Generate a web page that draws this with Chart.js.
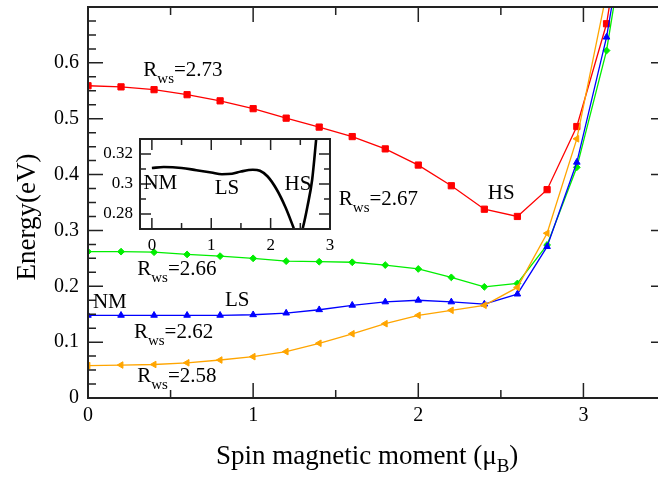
<!DOCTYPE html>
<html>
<head>
<meta charset="utf-8">
<script src="https://cdn.jsdelivr.net/npm/chart.js@4.4.0/dist/chart.umd.min.js"></script>
<style>
  html, body { margin: 0; padding: 0; overflow: hidden; background: #fff; }
  #wrap { position: relative; width: 672px; height: 477px; }
  #main { position: absolute; left: 0; top: 0; }
  #inset { position: absolute; left: 95px; top: 134px; }
</style>
</head>
<body>
<div id="wrap">
  <canvas id="main" width="672" height="477"></canvas>
  <canvas id="inset" width="240" height="120"></canvas>
</div>
<script>
// spin moment (mu_B) and energies (eV) for each Wigner-Seitz radius
const moment = [0, 0.2, 0.4, 0.6, 0.8, 1.0, 1.2, 1.4, 1.6, 1.8, 2.0, 2.2, 2.4, 2.6, 2.78, 2.96, 3.14, 3.32];
const rws273 = [0.559, 0.557, 0.552, 0.543, 0.532, 0.518, 0.501, 0.485, 0.468, 0.446, 0.417, 0.380, 0.338, 0.325, 0.373, 0.486, 0.670, 1.00];
const rws266 = [0.262, 0.262, 0.261, 0.257, 0.254, 0.250, 0.245, 0.244, 0.243, 0.238, 0.231, 0.216, 0.199, 0.205, 0.274, 0.413, 0.622, 0.95];
const rws262 = [0.148, 0.148, 0.148, 0.148, 0.148, 0.149, 0.152, 0.158, 0.166, 0.172, 0.175, 0.172, 0.168, 0.186, 0.271, 0.422, 0.646, 0.96];
const rws258 = [0.058, 0.059, 0.060, 0.063, 0.068, 0.074, 0.083, 0.098, 0.115, 0.133, 0.148, 0.157, 0.166, 0.198, 0.295, 0.464, 0.725];

// inset curve
const insetMoment = [0, 0.2, 0.5, 0.75, 1.0, 1.18, 1.35, 1.5, 1.7, 1.82, 1.95, 2.1, 2.25, 2.38, 2.47, 2.55, 2.62, 2.70, 2.77, 2.84];
const insetEnergy = [0.3107, 0.3113, 0.3107, 0.3092, 0.3077, 0.3065, 0.3068, 0.3083, 0.3095, 0.3088, 0.3050, 0.2965, 0.2845, 0.2715, 0.262, 0.272, 0.285, 0.303, 0.331, 0.36];

// tick labels
const mainXTicks = [0, 1, 2, 3];
const mainYTicks = [0, 0.1, 0.2, 0.3, 0.4, 0.5, 0.6];
const insetXTicks = [0, 1, 2, 3];
const insetYTicks = [0.28, 0.3, 0.32];

// text labels, placed in data coordinates (left edge, baseline)
const rwsLabels = [
  { x: 0.335, y: 0.576, text: '2.73' },
  { x: 1.519, y: 0.346, text: '2.67' },
  { x: 0.298, y: 0.220, text: '2.66' },
  { x: 0.278, y: 0.108, text: '2.62' },
  { x: 0.298, y: 0.028, text: '2.58' }
];
const stateLabels = [
  { x: 0.03, y: 0.1616, text: 'NM' },
  { x: 0.829, y: 0.1645, text: 'LS' },
  { x: 2.421, y: 0.356, text: 'HS' }
];
const insetLabels = [
  { x: -0.142, y: 0.2967, text: 'NM' },
  { x: 1.057, y: 0.2935, text: 'LS' },
  { x: 2.235, y: 0.2957, text: 'HS' }
];

const FONT = '"Liberation Serif", "Times New Roman", serif';

function pts(xs, ys) {
  return ys.map((y, i) => ({ x: xs[i], y: y }));
}

// white page behind the main plot
const whiteBg = {
  id: 'whiteBg',
  beforeDraw(chart) {
    const ctx = chart.ctx;
    ctx.save();
    ctx.fillStyle = '#fff';
    ctx.fillRect(0, 0, chart.width, chart.height);
    ctx.restore();
  }
};

// inset only blanks its own plot box, the rest of its canvas stays clear
const insetBg = {
  id: 'insetBg',
  beforeDraw(chart) {
    const { ctx, chartArea: a } = chart;
    ctx.save();
    ctx.fillStyle = '#fff';
    ctx.fillRect(a.left, a.top, a.right - a.left, a.bottom - a.top);
    ctx.restore();
  }
};

// frame with inward ticks on all four sides
function drawFrame(chart, o) {
  const { ctx, chartArea: a } = chart;
  const x = chart.scales.x, y = chart.scales.y;
  ctx.save();
  ctx.strokeStyle = '#222';
  ctx.lineWidth = 1.5;
  ctx.beginPath();
  for (let i = Math.ceil(x.min / o.xMinor - 1e-6); i * o.xMinor <= x.max + 1e-6; i++) {
    const len = i % o.xRatio === 0 ? o.major : o.minor;
    const px = x.getPixelForValue(i * o.xMinor);
    ctx.moveTo(px, a.bottom); ctx.lineTo(px, a.bottom - len);
    ctx.moveTo(px, a.top); ctx.lineTo(px, a.top + len);
  }
  for (let i = Math.ceil(y.min / o.yMinor - 1e-6); i * o.yMinor <= y.max + 1e-6; i++) {
    const len = i % o.yRatio === 0 ? o.major : o.minor;
    const py = y.getPixelForValue(i * o.yMinor);
    ctx.moveTo(a.left, py); ctx.lineTo(a.left + len, py);
    ctx.moveTo(a.right, py); ctx.lineTo(a.right - len, py);
  }
  ctx.stroke();
  ctx.lineWidth = 2;
  ctx.strokeRect(a.left, a.top, a.right - a.left, a.bottom - a.top);
  ctx.restore();
}

function drawPlain(chart, list) {
  const ctx = chart.ctx;
  ctx.save();
  ctx.fillStyle = '#000';
  ctx.textBaseline = 'alphabetic';
  ctx.textAlign = 'left';
  ctx.font = '21px ' + FONT;
  list.forEach(l => {
    ctx.fillText(l.text, chart.scales.x.getPixelForValue(l.x), chart.scales.y.getPixelForValue(l.y));
  });
  ctx.restore();
}

const mainDecor = {
  id: 'mainDecor',
  afterDraw(chart) {
    drawFrame(chart, { xMinor: 0.5, xRatio: 2, yMinor: 0.025, yRatio: 4, major: 15, minor: 8 });
    const ctx = chart.ctx;
    ctx.save();
    ctx.fillStyle = '#000';
    ctx.textBaseline = 'alphabetic';
    ctx.textAlign = 'left';
    rwsLabels.forEach(l => {
      const px = chart.scales.x.getPixelForValue(l.x);
      const py = chart.scales.y.getPixelForValue(l.y);
      ctx.font = '21px ' + FONT;
      ctx.fillText('R', px, py);
      let w = ctx.measureText('R').width;
      ctx.font = '15px ' + FONT;
      ctx.fillText('ws', px + w, py + 7);
      w += ctx.measureText('ws').width;
      ctx.font = '21px ' + FONT;
      ctx.fillText('=' + l.text, px + w, py);
    });
    // axis titles
    ctx.font = '27px ' + FONT;
    const t1 = 'Spin magnetic moment (\u03bc';
    ctx.fillText(t1, 216, 464);
    let w = ctx.measureText(t1).width;
    ctx.font = '19px ' + FONT;
    ctx.fillText('B', 216 + w, 472);
    w += ctx.measureText('B').width;
    ctx.font = '27px ' + FONT;
    ctx.fillText(')', 216 + w, 464);
    ctx.translate(28, 217);
    ctx.rotate(-Math.PI / 2);
    ctx.textAlign = 'center';
    ctx.textBaseline = 'middle';
    ctx.fillText('Energy(eV)', 0, 0);
    ctx.restore();
    drawPlain(chart, stateLabels);
  }
};

const insetDecor = {
  id: 'insetDecor',
  afterDraw(chart) {
    drawFrame(chart, { xMinor: 0.5, xRatio: 2, yMinor: 0.01, yRatio: 2, major: 11, minor: 6 });
    drawPlain(chart, insetLabels);
  }
};

function series(label, ys, color, style, radius, rotation) {
  return {
    label: label,
    data: pts(moment, ys),
    borderColor: color,
    backgroundColor: color,
    borderWidth: 1.3,
    pointStyle: style,
    pointRadius: radius,
    pointRotation: rotation || 0,
    pointBorderWidth: 1,
    tension: 0
  };
}

// keep the plot area where the layout padding puts it
function fixY(width) {
  return s => { s.width = width; s.paddingTop = 0; s.paddingBottom = 0; };
}
function fixX(height) {
  return s => { s.height = height; s.paddingLeft = 0; s.paddingRight = 0; };
}

new Chart(document.getElementById('main').getContext('2d'), {
  type: 'line',
  data: {
    datasets: [
      series('2.58', rws258, '#ffa500', 'triangle', 3.8, -90),
      series('2.62', rws262, '#0000ff', 'triangle', 3.8),
      series('2.66', rws266, '#00ee00', 'rectRot', 3.4),
      series('2.73', rws273, '#ff0000', 'rect', 4.4)
    ]
  },
  options: {
    responsive: false,
    animation: false,
    layout: { padding: { top: 7, right: 6, left: 0, bottom: 0 } },
    plugins: { legend: { display: false }, tooltip: { enabled: false } },
    scales: {
      x: {
        type: 'linear', min: 0, max: 3.5,
        grid: { display: false, drawTicks: false },
        border: { display: false },
        ticks: { color: '#000', padding: 6, maxRotation: 0, font: { family: FONT, size: 20 } },
        afterBuildTicks: s => { s.ticks = mainXTicks.map(v => ({ value: v })); },
        afterFit: fixX(79)
      },
      y: {
        type: 'linear', min: 0, max: 0.7,
        grid: { display: false, drawTicks: false },
        border: { display: false },
        ticks: { color: '#000', padding: 9, font: { family: FONT, size: 20 }, callback: v => String(v) },
        afterBuildTicks: s => { s.ticks = mainYTicks.map(v => ({ value: v })); },
        afterFit: fixY(88)
      }
    }
  },
  plugins: [whiteBg, mainDecor]
});

new Chart(document.getElementById('inset').getContext('2d'), {
  type: 'line',
  data: {
    datasets: [{
      data: pts(insetMoment, insetEnergy),
      borderColor: '#000',
      borderWidth: 2.6,
      pointRadius: 0,
      cubicInterpolationMode: 'monotone'
    }]
  },
  options: {
    responsive: false,
    animation: false,
    layout: { padding: { top: 5, right: 5, left: 0, bottom: 0 } },
    plugins: { legend: { display: false }, tooltip: { enabled: false } },
    scales: {
      x: {
        type: 'linear', min: -0.2, max: 3.0,
        grid: { display: false, drawTicks: false },
        border: { display: false },
        ticks: { color: '#000', padding: 6, maxRotation: 0, font: { family: FONT, size: 17 } },
        afterBuildTicks: s => { s.ticks = insetXTicks.map(v => ({ value: v })); },
        afterFit: fixX(25)
      },
      y: {
        type: 'linear', min: 0.27, max: 0.33,
        grid: { display: false, drawTicks: false },
        border: { display: false },
        ticks: { color: '#000', padding: 7, font: { family: FONT, size: 17 }, callback: v => String(v) },
        afterBuildTicks: s => { s.ticks = insetYTicks.map(v => ({ value: v })); },
        afterFit: fixY(45)
      }
    }
  },
  plugins: [insetBg, insetDecor]
});
</script>
</body>
</html>
